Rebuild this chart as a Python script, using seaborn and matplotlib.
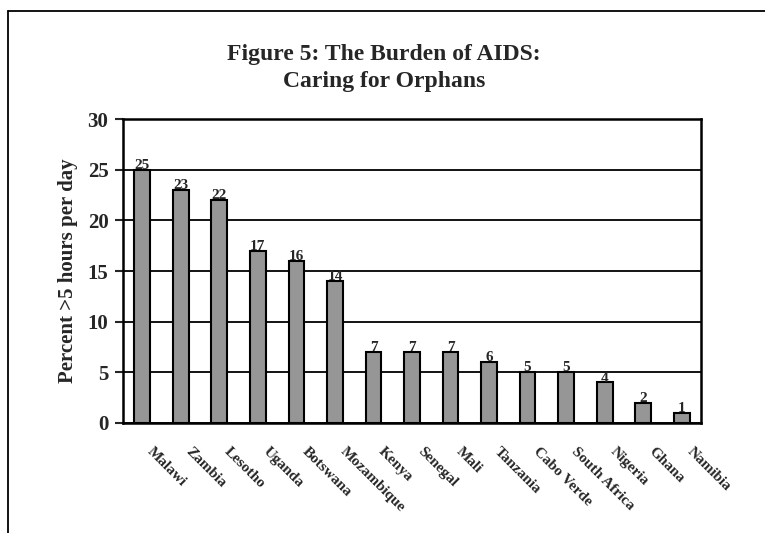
import numpy as np
import pandas as pd
import matplotlib
matplotlib.use("Agg")
import matplotlib.pyplot as plt
import matplotlib.transforms as mtransforms
from matplotlib.lines import Line2D
import seaborn as sns

countries = ["Malawi", "Zambia", "Lesotho", "Uganda", "Botswana", "Mozambique",
             "Kenya", "Senegal", "Mali", "Tanzania", "Cabo Verde", "South Africa",
             "Nigeria", "Ghana", "Namibia"]
percent = [25, 23, 22, 17, 16, 14, 7, 7, 7, 6, 5, 5, 4, 2, 1]
y_ticks = [0, 5, 10, 15, 20, 25, 30]

sns.set_style("white")
plt.rcParams["font.family"] = ["Liberation Serif", "DejaVu Serif"]
plt.rcParams["font.weight"] = "bold"

df = pd.DataFrame({"country": countries, "percent": percent})

fig = plt.figure(figsize=(7.65, 5.33), dpi=100)
ax = fig.add_axes([0.1608, 0.2064, 0.7555, 0.5703])

# grid lines behind the bars
ax.set_axisbelow(True)
ax.yaxis.grid(True, color="black", linewidth=1.3)

sns.barplot(data=df, x="country", y="percent", color="#969696",
            edgecolor="black", linewidth=1.5, width=0.41, saturation=1, ax=ax)

for c in ax.containers:
    ax.bar_label(c, padding=-1.5, fontsize=11, fontweight="bold")

ax.set_ylim(0, 30)
ax.set_xlim(-0.5, len(countries) - 0.5)
ax.set_yticks(y_ticks)
ax.set_yticklabels([str(t) for t in y_ticks], fontsize=15, fontweight="bold")
ax.set_xticks(range(len(countries)))
ax.set_xticklabels(countries, rotation=-45, ha="left", va="top",
                   rotation_mode="anchor", fontsize=11, fontweight="bold")
ax.set_xticks(np.arange(-0.5, len(countries), 1), minor=True)
ax.tick_params(axis="x", which="major", length=0, pad=16)
ax.tick_params(axis="x", which="minor", length=5, width=1.5, direction="out")
ax.tick_params(axis="y", length=5.5, width=1.5, direction="out", left=True, pad=5)

# Excel-style: rotated labels sit a bit right of the bar centre
shift = mtransforms.ScaledTranslation(12 / 100, 0, fig.dpi_scale_trans)
for lab in ax.get_xticklabels():
    lab.set_transform(lab.get_transform() + shift)

for side in ["left", "bottom", "right", "top"]:
    ax.spines[side].set_visible(True)
    ax.spines[side].set_color("black")
    ax.spines[side].set_linewidth(1.8)

ax.set_xlabel("")
ax.set_ylabel("Percent >5 hours per day", fontsize=15, fontweight="bold", labelpad=7)

fig.text(0.502, 0.897, "Figure 5: The Burden of AIDS:", ha="center", va="center",
         fontsize=17, fontweight="bold")
fig.text(0.502, 0.848, "Caring for Orphans", ha="center", va="center",
         fontsize=17, fontweight="bold")

# outer frame (left and top edges)
fig.add_artist(Line2D([8 / 765, 8 / 765], [0, 1 - 11 / 533], color="black", linewidth=1.3))
fig.add_artist(Line2D([8 / 765, 1], [1 - 11 / 533, 1 - 11 / 533], color="black", linewidth=1.3))

fig.savefig("out.png", dpi=100)
